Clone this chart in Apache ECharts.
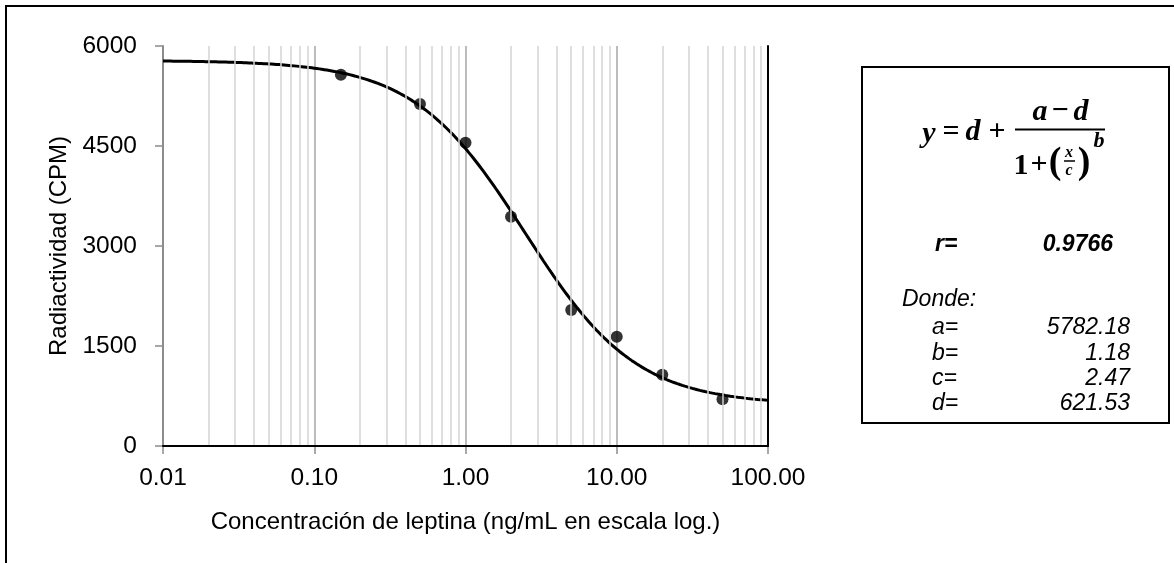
<!DOCTYPE html>
<html>
<head>
<meta charset="utf-8">
<script src="https://cdn.jsdelivr.net/npm/echarts@6/dist/echarts.min.js"></script>
<style>
  html, body { margin: 0; padding: 0; background: #fff; }
  #chart { width: 1174px; height: 563px; }
</style>
</head>
<body>
<div id="chart"></div>
<script>
// Standard curve: leptin concentration (ng/mL) vs measured radioactivity (CPM)
const concentrations = [0.15, 0.5, 1, 2, 5, 10, 20, 50];
const radioactivity = [5570, 5130, 4550, 3440, 2040, 1640, 1070, 700];

// Four-parameter logistic fit, as printed in the side panel
const fitNames = ['a', 'b', 'c', 'd'];
const fitValues = [5782.18, 1.18, 2.47, 621.53];
const fitLabels = ['5782.18', '1.18', '2.47', '621.53'];
const rLabel = '0.9766';

// Axis ranges
const xMin = 0.01, xMax = 100;
const yTicks = [0, 1500, 3000, 4500, 6000];
const minorMultipliers = [2, 3, 4, 5, 6, 7, 8, 9];
const decades = [0.01, 0.1, 1, 10];

const SANS = '"Liberation Sans", Arial, sans-serif';
const SERIF = '"Liberation Serif", "Times New Roman", serif';

// Fitted curve sampled on a log grid from the printed parameters
const [pa, pb, pc, pd] = fitValues;
const curve = [];
const nSamples = 240;
for (let i = 0; i <= nSamples; i++) {
  const x = Math.pow(10, Math.log10(xMin) + (Math.log10(xMax) - Math.log10(xMin)) * i / nSamples);
  curve.push([x, pd + (pa - pd) / (1 + Math.pow(x / pc, pb))]);
}

// Minor vertical gridlines at 2..9 of each decade
const minorLines = [];
decades.forEach(dec => minorMultipliers.forEach(m => minorLines.push({ xAxis: +(dec * m).toPrecision(3) })));

const chart = echarts.init(document.getElementById('chart'), null, { renderer: 'canvas' });

function txt(text, x, y, font, align, vAlign) {
  return {
    type: 'text', z: 10,
    style: {
      text: text, x: x, y: y, font: font, fill: '#000',
      textAlign: align || 'left', textVerticalAlign: vAlign || 'middle',
      align: align || 'left', verticalAlign: vAlign || 'middle'
    }
  };
}

const eqFont = 'italic bold 30px ' + SERIF;
const eqUp = 'bold 30px ' + SERIF;
const eqSmall = 'italic bold 16px ' + SERIF;
const boxFont = 'italic 23px ' + SANS;
const boxBold = 'italic bold 23px ' + SANS;

const panelRows = [];
fitNames.forEach((n, i) => {
  const y = 328 + i * 25.3;
  panelRows.push(txt(n + '=', 932, y, boxFont, 'left'));
  panelRows.push(txt(fitLabels[i], 1130, y, boxFont, 'right'));
});

const option = {
  animation: false,
  backgroundColor: '#fff',
  grid: { left: 163, right: 406, top: 46, bottom: 117, containLabel: false },
  xAxis: [{
    type: 'log', logBase: 10, min: xMin, max: xMax,
    name: 'Concentración de leptina (ng/mL en escala log.)',
    nameLocation: 'middle', nameGap: 64,
    nameTextStyle: { fontFamily: SANS, fontSize: 24, color: '#000' },
    axisLine: { show: true, lineStyle: { color: '#8c8c8c', width: 2 } },
    axisTick: { show: true, inside: false, length: 8, lineStyle: { color: '#8c8c8c', width: 1.5 } },
    axisLabel: {
      fontFamily: SANS, fontSize: 24.5, color: '#000', margin: 20,
      formatter: v => Number(v).toFixed(2)
    },
    splitLine: { show: true, lineStyle: { color: '#a6a6a6', width: 1.5 } },
    minorTick: { show: false }
  }, {
    type: 'log', logBase: 10, min: xMin, max: xMax, position: 'top', z: 5,
    axisLine: { show: true, lineStyle: { color: '#000', width: 2 } },
    axisTick: { show: false }, axisLabel: { show: false }, splitLine: { show: false }
  }],
  yAxis: [{
    type: 'value', min: 0, max: 6000, interval: 1500,
    name: 'Radiactividad (CPM)', nameLocation: 'middle', nameGap: 68, nameRotate: 90,
    nameTextStyle: { fontFamily: SANS, fontSize: 24, color: '#000' },
    axisLine: { show: true, lineStyle: { color: '#8c8c8c', width: 2 } },
    axisTick: { show: true, inside: false, length: 8, lineStyle: { color: '#8c8c8c', width: 1.5 } },
    axisLabel: { fontFamily: SANS, fontSize: 24.5, color: '#000', margin: 26,
      formatter: v => yTicks.includes(v) ? String(v) : '' },
    splitLine: { show: false }
  }, {
    type: 'value', min: 0, max: 6000, interval: 1500, position: 'right', z: 5,
    axisLine: { show: true, lineStyle: { color: '#000', width: 2 } },
    axisTick: { show: false }, axisLabel: { show: false }, splitLine: { show: false }
  }],
  series: [{
    type: 'line', data: [], z: 1, silent: true,
    markLine: {
      silent: true, symbol: ['none', 'none'], animation: false,
      label: { show: false },
      lineStyle: { color: '#d4d4d4', width: 1.5, type: 'solid' },
      data: minorLines
    }
  }, {
    name: 'Ajuste', type: 'line', data: curve, showSymbol: false, smooth: false, z: 3,
    lineStyle: { color: '#000', width: 3 }, silent: true
  }, {
    name: 'Estándares', type: 'scatter', z: 4,
    data: concentrations.map((c, i) => [c, radioactivity[i]]),
    symbol: 'circle', symbolSize: 12, itemStyle: { color: '#000' }
  }],
  graphic: [
    // outer frame
    { type: 'rect', z: 10, shape: { x: 6, y: 6, width: 1400, height: 800 },
      style: { fill: 'none', stroke: '#000', lineWidth: 2 } },
    // equation panel
    { type: 'rect', z: 10, shape: { x: 862, y: 67, width: 307, height: 356 },
      style: { fill: 'none', stroke: '#000', lineWidth: 2 } },
    // y = d + (a - d) / (1 + (x/c)^b)
    txt('y', 929, 134, eqFont, 'center'),
    txt('=', 951, 132, eqUp, 'center'),
    txt('d', 973, 132, eqFont, 'center'),
    txt('+', 997, 132, eqUp, 'center'),
    txt('a', 1040, 112, eqFont, 'center'),
    txt('\u2212', 1060, 111, eqUp, 'center'),
    txt('d', 1081, 112, eqFont, 'center'),
    { type: 'line', z: 10, shape: { x1: 1015, y1: 129.5, x2: 1105, y2: 129.5 },
      style: { stroke: '#000', lineWidth: 2.2 } },
    txt('1', 1021, 166, eqUp, 'center'),
    txt('+', 1039, 165, eqUp, 'center'),
    txt('(', 1055, 163, 'bold 38px ' + SERIF, 'center'),
    txt('x', 1069, 153, eqSmall, 'center'),
    { type: 'line', z: 10, shape: { x1: 1064, y1: 161, x2: 1075, y2: 161 },
      style: { stroke: '#000', lineWidth: 1.5 } },
    txt('c', 1069, 171, eqSmall, 'center'),
    txt(')', 1084, 163, 'bold 38px ' + SERIF, 'center'),
    txt('b', 1099, 141, 'italic bold 22px ' + SERIF, 'center'),
    // correlation
    txt('r=', 935, 245, boxBold, 'left'),
    txt(rLabel, 1113, 245, boxBold, 'right'),
    txt('Donde:', 902, 300, boxFont, 'left')
  ].concat(panelRows)
};

chart.setOption(option);
</script>
</body>
</html>
